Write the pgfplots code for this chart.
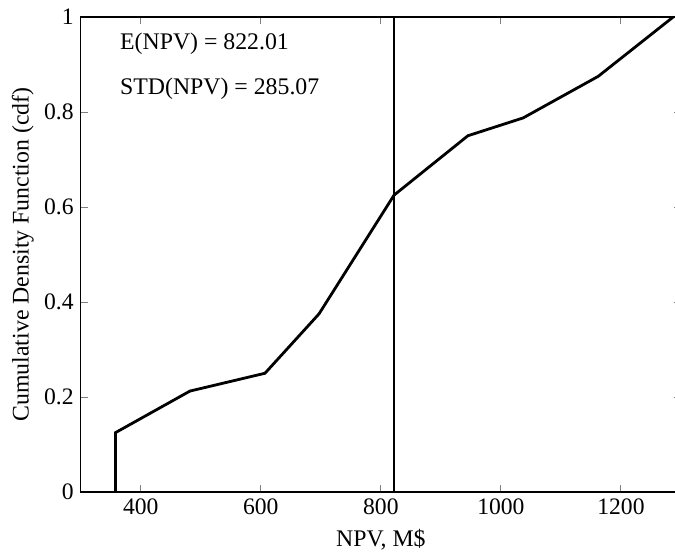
\documentclass[border=0pt]{standalone}
\usepackage{fontspec}
\setmainfont{Liberation Serif}
\usepackage{pgfplots}
\pgfplotsset{compat=1.18}
\usetikzlibrary{calc}

\begin{document}
\begin{tikzpicture}
\begin{axis}[
  name=ax,
  scale only axis,
  width=300.15pt, height=237.5pt,
  xmin=300, xmax=1300,
  ymin=0, ymax=1,
  xtick={400,600,...,1200},
  ytick={0,0.2,0.4,0.6,0.8,1},
  tick align=inside,
  major tick length=3.5pt,
  tick style={line width=0.5pt},
  axis line style={line width=0.6pt},
  tick label style={font=\fontsize{11.8}{14}\selectfont},
  /pgf/number format/assume math mode=true,
  /pgf/number format/1000 sep={},
  clip=false,
]
\addplot[line width=1.4pt, black] coordinates {
  (358,0) (358,0.125) (482,0.2125) (607,0.25) (697,0.375)
  (822,0.625) (945,0.75) (1037,0.7875) (1162,0.875) (1287,1)
};
\addplot[line width=1.4pt, black] coordinates {(822.01,0) (822.01,1)};
\node[anchor=west, inner sep=0pt, font=\fontsize{11.9}{14}\selectfont] at (axis cs:365,0.944) {E(NPV) = 822.01};
\node[anchor=west, inner sep=0pt, font=\fontsize{11.9}{14}\selectfont] at (axis cs:365,0.848) {STD(NPV) = 285.07};
\end{axis}
\node[font=\fontsize{11.9}{14}\selectfont] at ($(ax.south)+(0,-24pt)$) {NPV, M\$};
\node[rotate=90, font=\fontsize{11.9}{14}\selectfont] at ($(ax.west)+(-29pt,0)$) {Cumulative Density Function (cdf)};
\pgfresetboundingbox
\path[use as bounding box] ($(ax.south west)+(-40.35pt,-30.5pt)$) rectangle ($(ax.north east)+(-3pt,8.5pt)$);
\end{tikzpicture}
\end{document}
